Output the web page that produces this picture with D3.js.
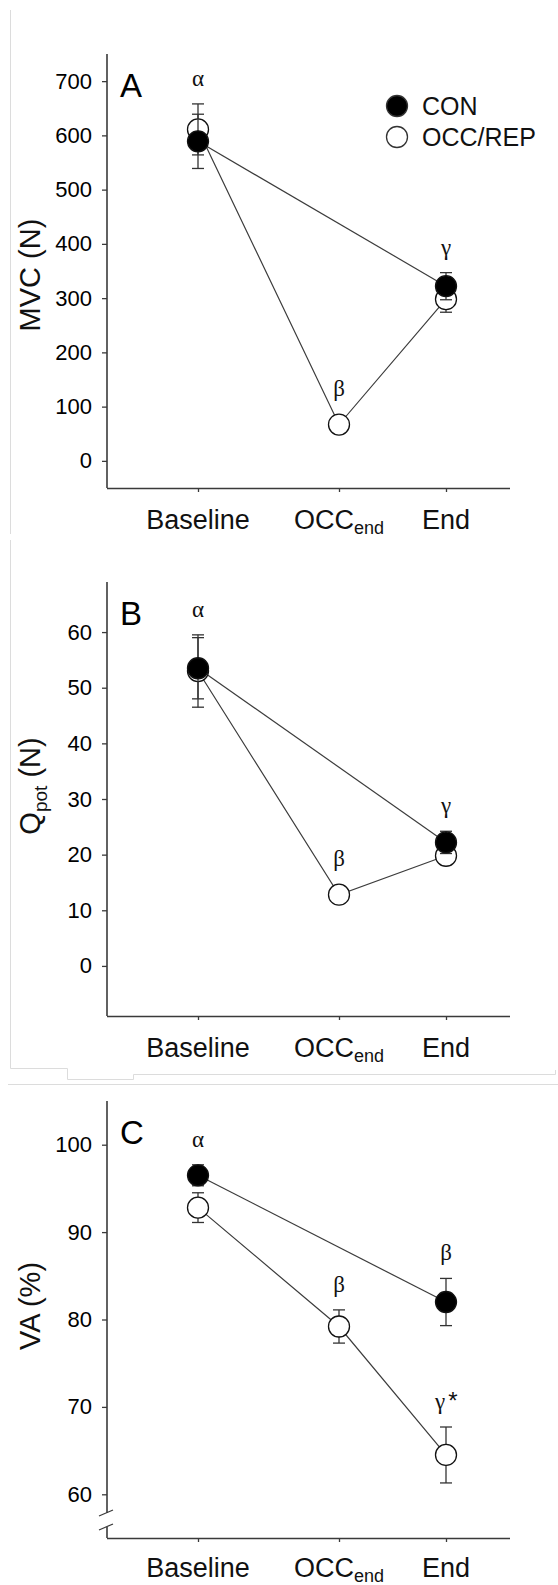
<!DOCTYPE html>
<html>
<head>
<meta charset="utf-8">
<script src="https://cdn.jsdelivr.net/npm/d3@7"></script>
<style>
  html, body { margin: 0; padding: 0; background: #fff; }
  svg { display: block; }
</style>
</head>
<body>
<svg id="fig" width="558" height="1585"></svg>
<script>
// ---- data ----
const categories = ["Baseline", "OCC", "End"];   // "OCC" gets the "end" subscript
const categorySubs = ["", "end", ""];
const seriesNames = ["CON", "OCC/REP"];

// Panel A: MVC (N)
const mvcCon    = [589, null, 322];
const mvcConErr = [50, null, 25];
const mvcOcc    = [611, 67, 298];
const mvcOccErr = [47, 4, 24];
const mvcTicks  = [0, 100, 200, 300, 400, 500, 600, 700];

// Panel B: Qpot (N)
const qpotCon    = [53.5, null, 22.2];
const qpotConErr = [5.5, null, 2.0];
const qpotOcc    = [53.0, 12.8, 19.8];
const qpotOccErr = [6.5, 0.8, 1.6];
const qpotTicks  = [0, 10, 20, 30, 40, 50, 60];

// Panel C: VA (%)
const vaCon    = [96.5, null, 82.0];
const vaConErr = [1.2, null, 2.7];
const vaOcc    = [92.8, 79.2, 64.5];
const vaOccErr = [1.7, 1.9, 3.2];
const vaTicks  = [60, 70, 80, 90, 100];

// significance symbols: [category index, series (0 = CON, 1 = OCC/REP), text]
const mvcMarks  = [[0, 1, "α"], [1, 1, "β"], [2, 0, "γ"]];
const qpotMarks = [[0, 1, "α"], [1, 1, "β"], [2, 0, "γ"]];
const vaMarks   = [[0, 0, "α"], [1, 1, "β"], [2, 0, "β"], [2, 1, "γ*"]];

// ---- layout ----
const svg = d3.select("#fig");
const SANS = "'Liberation Sans', Arial, sans-serif";
const SERIF = "'Liberation Serif', 'Times New Roman', serif";
const AXIS = "#3a3a3a";
const X0 = 107, X1 = 510;

const panels = [
  { letter: "A", title: [["MVC (N)", null]], titleY: 275, top: 54, bottom: 488, domain: [-50, 750],
    ticks: mvcTicks, con: mvcCon, conErr: mvcConErr, occ: mvcOcc, occErr: mvcOccErr,
    marks: mvcMarks, legend: true, brk: false, labelDy: 41 },
  { letter: "B", title: [["Q", null], ["pot", "sub"], [" (N)", "up"]], titleY: 786, top: 582, bottom: 1016, domain: [-9, 69],
    ticks: qpotTicks, con: qpotCon, conErr: qpotConErr, occ: qpotOcc, occErr: qpotOccErr,
    marks: qpotMarks, legend: false, brk: false, labelDy: 41 },
  { letter: "C", title: [["VA (%)", null]], titleY: 1306, top: 1101, bottom: 1538, domain: [55, 105],
    ticks: vaTicks, con: vaCon, conErr: vaConErr, occ: vaOcc, occErr: vaOccErr,
    marks: vaMarks, legend: false, brk: true, labelDy: 39 }
];

// faint frame edges around the panels
const frame = svg.append("g").attr("fill", "none").attr("stroke", "#dcdcdc").attr("stroke-width", 1);
frame.append("path").attr("d", "M10.5,10 V534");
frame.append("path").attr("d", "M10.5,540 V1068.5 H67.5 V1079.5 H133.5 V1074.5 H555.5 V1070");
frame.append("path").attr("d", "M8,1084.5 H558");

// category positions along the x axis
const x = d3.scaleOrdinal().domain([0, 1, 2]).range([198, 339, 446]);

panels.forEach(p => {
  const g = svg.append("g");
  const y = d3.scaleLinear().domain(p.domain).range([p.bottom, p.top]);

  // y axis ticks + labels
  const yAxis = g.append("g").attr("transform", `translate(${X0},0)`)
    .call(d3.axisLeft(y).tickValues(p.ticks).tickSize(5).tickSizeOuter(0).tickPadding(10));
  yAxis.selectAll("text").attr("font-family", SANS).attr("font-size", 22).attr("fill", "#000");
  yAxis.selectAll("line").attr("stroke", AXIS).attr("stroke-width", 1.3);
  yAxis.select(".domain").remove();

  // y axis line (with a break in panel C)
  const ax = g.append("g").attr("stroke", AXIS).attr("stroke-width", 1.6).attr("fill", "none");
  if (p.brk) {
    const bTop = p.bottom - 25, bBot = p.bottom - 11;
    ax.append("line").attr("x1", X0).attr("x2", X0).attr("y1", p.top).attr("y2", bTop);
    ax.append("line").attr("x1", X0).attr("x2", X0).attr("y1", bBot).attr("y2", p.bottom);
    [bTop, bBot].forEach(yy => {
      ax.append("line").attr("stroke-width", 1.3)
        .attr("x1", X0 - 8).attr("y1", yy + 3).attr("x2", X0 + 6).attr("y2", yy - 3);
    });
  } else {
    ax.append("line").attr("x1", X0).attr("x2", X0).attr("y1", p.top).attr("y2", p.bottom);
  }

  // x axis
  const xAxis = g.append("g").attr("transform", `translate(0,${p.bottom})`)
    .call(d3.axisBottom(x).tickSize(4).tickSizeOuter(0).tickFormat(""));
  xAxis.select(".domain").attr("stroke", AXIS).attr("stroke-width", 1.6)
    .attr("d", `M${X0},0.5H${X1}`);
  xAxis.selectAll("line").attr("stroke", AXIS).attr("stroke-width", 1.3);

  categories.forEach((c, i) => {
    const t = g.append("text").attr("x", x(i)).attr("y", p.bottom + p.labelDy)
      .attr("text-anchor", "middle").attr("font-family", SANS).attr("font-size", 27).attr("fill", "#111");
    t.append("tspan").text(c);
    if (categorySubs[i]) t.append("tspan").attr("font-size", 18).attr("dy", 5).text(categorySubs[i]);
  });

  // y axis title
  const title = g.append("text").attr("transform", `translate(40,${p.titleY}) rotate(-90)`)
    .attr("text-anchor", "middle").attr("font-family", SANS).attr("font-size", 29).attr("fill", "#111");
  p.title.forEach(([s, kind]) => {
    const ts = title.append("tspan").text(s);
    if (kind === "sub") ts.attr("font-size", 19).attr("dy", 7);
    else if (kind === "up") ts.attr("dy", -7);
  });

  // panel letter
  g.append("text").attr("x", 120).attr("y", p.top + 43).attr("font-family", SANS)
    .attr("font-size", 33).attr("fill", "#000").text(p.letter);

  // series
  const series = [
    { vals: p.occ, err: p.occErr, fill: "#fff" },
    { vals: p.con, err: p.conErr, fill: "#000" }
  ];
  const line = d3.line().x(d => x(d.i)).y(d => y(d.v));
  const pts = s => s.vals.map((v, i) => ({ i, v, e: s.err[i] })).filter(d => d.v != null);

  // connecting lines first
  [series[1], series[0]].forEach(s => {
    g.append("path").datum(pts(s)).attr("d", line)
      .attr("fill", "none").attr("stroke", "#3c3c3c").attr("stroke-width", 1.2);
  });

  // error bars and markers, OCC/REP underneath CON
  series.forEach(s => {
    const eg = g.append("g").attr("stroke", "#333").attr("stroke-width", 1.3);
    pts(s).forEach(d => {
      const cx = x(d.i), yt = y(d.v + d.e), yb = y(d.v - d.e);
      eg.append("line").attr("x1", cx).attr("x2", cx).attr("y1", yt).attr("y2", yb);
      eg.append("line").attr("x1", cx - 6).attr("x2", cx + 6).attr("y1", yt).attr("y2", yt);
      eg.append("line").attr("x1", cx - 6).attr("x2", cx + 6).attr("y1", yb).attr("y2", yb);
    });
    g.append("g").selectAll("circle").data(pts(s)).join("circle")
      .attr("cx", d => x(d.i)).attr("cy", d => y(d.v)).attr("r", 10.5)
      .attr("fill", s.fill).attr("stroke", "#111").attr("stroke-width", 1.3);
  });

  // significance symbols above the upper error cap
  p.marks.forEach(([ci, si, txt]) => {
    const vals = si === 0 ? p.con : p.occ, errs = si === 0 ? p.conErr : p.occErr;
    const top = Math.min(y(vals[ci] + errs[ci]), y(vals[ci]) - 10.5);
    const t = g.append("text").attr("x", x(ci)).attr("y", top - 18)
      .attr("text-anchor", "middle").attr("font-family", SERIF).attr("font-size", 23).attr("fill", "#111");
    if (txt.endsWith("*")) {
      t.attr("text-anchor", "start").attr("x", x(ci) - 11);
      t.append("tspan").text(txt.slice(0, -1));
      t.append("tspan").attr("font-family", SANS).attr("font-size", 24).attr("dx", 3).text("*");
    } else {
      t.text(txt);
    }
  });

  // legend
  if (p.legend) {
    const lg = g.append("g");
    seriesNames.forEach((n, i) => {
      const ly = 106 + i * 31;
      lg.append("circle").attr("cx", 397).attr("cy", ly).attr("r", 10.5)
        .attr("fill", i === 0 ? "#000" : "#fff").attr("stroke", "#333").attr("stroke-width", 1.3);
      lg.append("text").attr("x", 422).attr("y", ly + 9).attr("font-family", SANS)
        .attr("font-size", 25).attr("fill", "#111").text(n);
    });
  }
});
</script>
</body>
</html>
